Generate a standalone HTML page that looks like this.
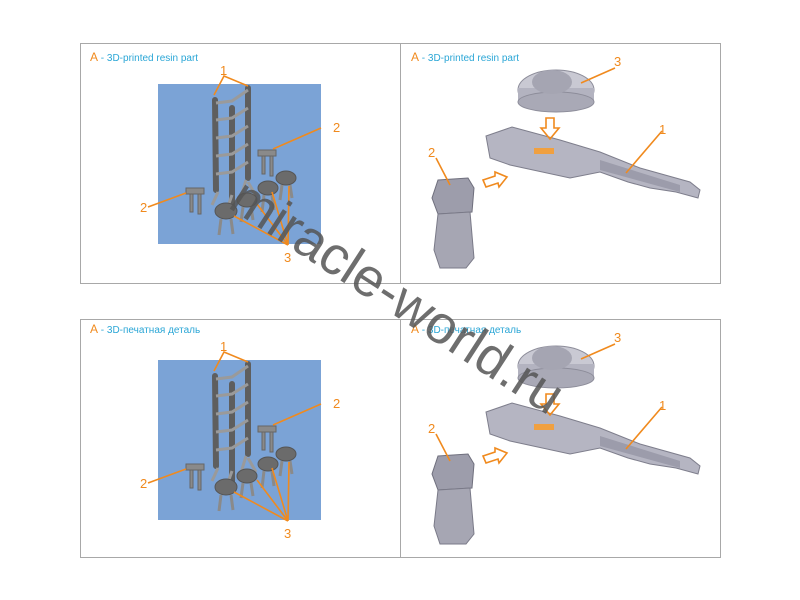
<!DOCTYPE html>
<html><head><meta charset="utf-8"><style>
html,body{margin:0;padding:0;background:#fff;}
svg{display:block;}
text{font-family:"Liberation Sans",sans-serif;}
</style></head><body>
<svg width="800" height="600" viewBox="0 0 800 600" xmlns="http://www.w3.org/2000/svg">
<defs>
<g id="left">
  <rect x="158" y="84" width="163" height="160" fill="#7ba3d6"/>
  <g stroke="#5e5e5e" stroke-width="6" fill="none" stroke-linecap="round">
    <line x1="215" y1="100" x2="216" y2="190"/>
    <line x1="248" y1="88" x2="248" y2="178"/>
    <line x1="232" y1="108" x2="232" y2="210"/>
  </g>
  <g stroke="#9a9a9a" stroke-width="3" fill="none">
    <path d="M216 103 L232 101 L248 90"/>
    <path d="M216 120 L232 118 L248 108"/>
    <path d="M216 138 L232 136 L248 126"/>
    <path d="M216 156 L232 154 L248 144"/>
    <path d="M216 174 L232 172 L248 162"/>
    <path d="M218 192 L212 205 M232 195 L226 212 M246 180 L240 200 M248 182 L256 196"/>
  </g>
  <g fill="#8a8a8a" stroke="#666" stroke-width="1">
    <rect x="258" y="150" width="18" height="6"/>
    <rect x="262" y="156" width="3" height="18"/><rect x="270" y="156" width="3" height="20"/>
    <rect x="186" y="188" width="18" height="6"/>
    <rect x="190" y="194" width="3" height="18"/><rect x="198" y="194" width="3" height="20"/>
  </g>
  <g fill="#6b6b6b" stroke="#555">
    <ellipse cx="286" cy="178" rx="10" ry="7"/>
    <ellipse cx="268" cy="188" rx="10" ry="7"/>
    <ellipse cx="247" cy="200" rx="10" ry="7"/>
    <ellipse cx="226" cy="211" rx="11" ry="8"/>
  </g>
  <g stroke="#8a8a8a" stroke-width="3">
    <line x1="282" y1="185" x2="280" y2="200"/><line x1="290" y1="185" x2="292" y2="198"/>
    <line x1="264" y1="195" x2="262" y2="212"/><line x1="272" y1="195" x2="274" y2="210"/>
    <line x1="243" y1="207" x2="241" y2="222"/><line x1="251" y1="207" x2="253" y2="220"/>
    <line x1="221" y1="219" x2="219" y2="235"/><line x1="231" y1="219" x2="233" y2="234"/>
  </g>
  <g stroke="#f08a1e" stroke-width="1.6" fill="none">
    <path d="M214 95 L224 76 L248 86"/>
    <path d="M321 128 L273 149"/>
    <path d="M148 207 L186 193"/>
    <path d="M288 245 L234 216 M288 245 L257 204 M288 245 L272 192 M288 245 L289 186"/>
  </g>
  <g fill="#f08a1e" font-size="13">
    <text x="220" y="75">1</text>
    <text x="333" y="132">2</text>
    <text x="140" y="212">2</text>
    <text x="284" y="262">3</text>
  </g>
</g>
<g id="right">
  <ellipse cx="556" cy="90" rx="38" ry="20" fill="#c9c9d3" stroke="#8d8d9a"/>
  <rect x="518" y="88" width="76" height="14" fill="#b3b3c0"/>
  <ellipse cx="556" cy="102" rx="38" ry="10" fill="#a9a9b6" stroke="#8d8d9a"/>
  <ellipse cx="552" cy="82" rx="20" ry="12" fill="#a5a5b2"/>
  <polygon points="486,136 512,127 560,140 600,152 640,168 690,182 700,190 698,198 676,192 650,188 628,182 600,172 570,178 510,165 490,158" fill="#b5b5c2" stroke="#7e7e8c"/>
  <polygon points="600,160 680,185 680,192 600,170" fill="#9c9cab"/>
  <rect x="534" y="148" width="20" height="6" fill="#f0a040"/>
  <polygon points="438,180 468,178 474,188 472,212 438,214 432,198" fill="#9d9dab" stroke="#6f6f7d"/>
  <polygon points="438,214 470,212 474,258 466,268 440,268 434,250" fill="#a6a6b3" stroke="#7a7a88"/>
  <g stroke="#f08a1e" stroke-width="1.6" fill="none">
    <path d="M546 118 h8 v10 h5 l-9 11 l-9 -11 h5 z"/>
    <path d="M483 180 l12 -4 l0 -4 l12 5 l-8 10 l-1 -4 l-12 4 z"/>
    <path d="M615 68 L581 83"/>
    <path d="M662 131 L626 173"/>
    <path d="M436 158 L450 185"/>
  </g>
  <g fill="#f08a1e" font-size="13">
    <text x="614" y="66">3</text>
    <text x="659" y="134">1</text>
    <text x="428" y="157">2</text>
  </g>
</g>
</defs>
<rect x="80.5" y="43.5" width="640" height="240" fill="none" stroke="#a8a8a8"/>
<line x1="400.5" y1="43" x2="400.5" y2="283" stroke="#a8a8a8"/>
<rect x="80.5" y="319.5" width="640" height="238" fill="none" stroke="#a8a8a8"/>
<line x1="400.5" y1="319" x2="400.5" y2="557" stroke="#a8a8a8"/>
<use href="#left"/>
<use href="#right"/>
<g transform="translate(0,276)"><use href="#left"/><use href="#right"/></g>
<g font-size="10">
  <text x="90" y="61"><tspan fill="#f08a1e" font-size="12">A</tspan><tspan fill="#2aa6d6"> - 3D-printed resin part</tspan></text>
  <text x="411" y="61"><tspan fill="#f08a1e" font-size="12">A</tspan><tspan fill="#2aa6d6"> - 3D-printed resin part</tspan></text>
  <text x="90" y="333"><tspan fill="#f08a1e" font-size="12">A</tspan><tspan fill="#2aa6d6"> - 3D-печатная деталь</tspan></text>
  <text x="411" y="333"><tspan fill="#f08a1e" font-size="12">A</tspan><tspan fill="#2aa6d6"> - 3D-печатная деталь</tspan></text>
</g>
<text x="397" y="314" text-anchor="middle" font-size="54" fill="#555" fill-opacity="0.85" transform="rotate(33 397 297)">miracle-world.ru</text>
</svg>
</body></html>
